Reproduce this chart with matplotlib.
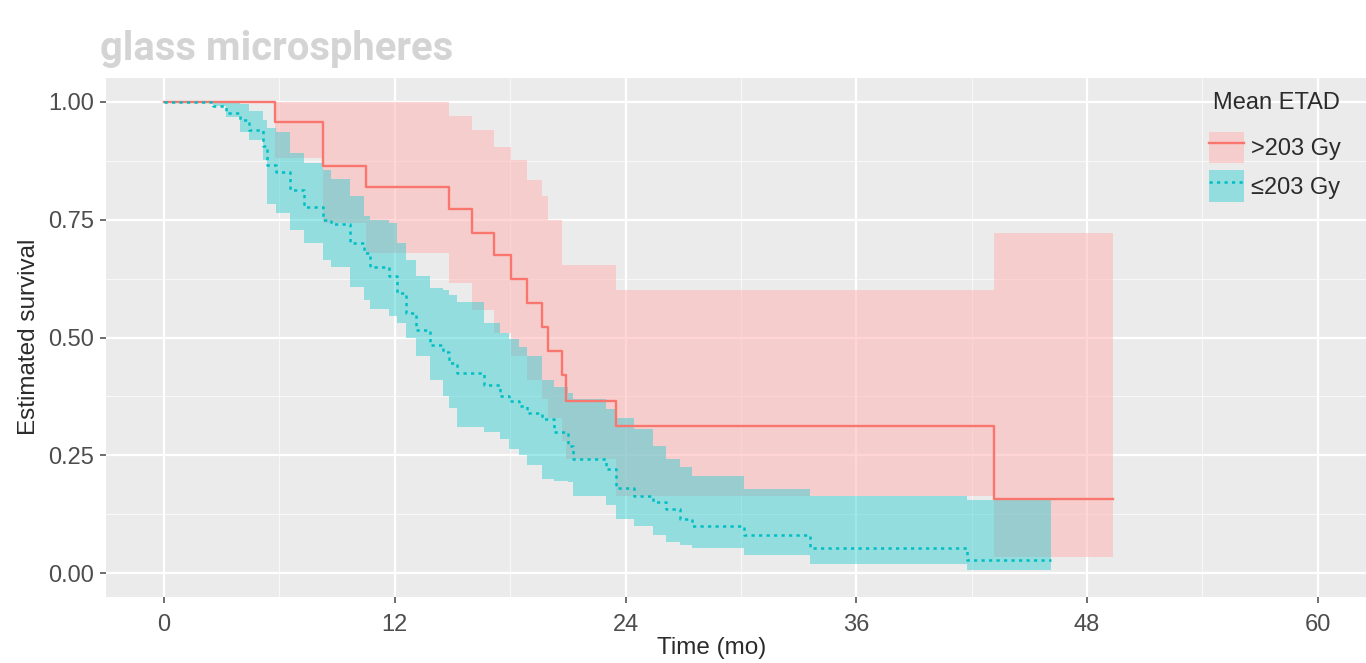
import numpy as np
import matplotlib
matplotlib.use("Agg")
import matplotlib.pyplot as plt
from matplotlib.patches import Patch
from matplotlib.lines import Line2D

plt.rcParams['font.family'] = ['Liberation Sans', 'DejaVu Sans']

# >203 Gy group (Kaplan-Meier steps)
red_t = [0, 5.75, 8.28, 10.50, 14.83, 16.04, 17.15, 18.06, 18.87, 19.68, 19.98,
         20.68, 20.89, 23.51, 43.18]
red_s = [1.0, 0.956, 0.863, 0.819, 0.772, 0.722, 0.675, 0.624, 0.574, 0.522, 0.471,
         0.42, 0.366, 0.313, 0.158]
red_hi = [1.0, 1.0, 1.0, 1.0, 0.97, 0.939, 0.904, 0.876, 0.833, 0.80, 0.749,
          0.654, 0.654, 0.601, 0.722]
red_lo = [1.0, 0.88, 0.742, 0.68, 0.616, 0.559, 0.51, 0.46, 0.41, 0.37, 0.33,
          0.28, 0.243, 0.165, 0.035]
red_end = 49.33

# <=203 Gy group
blue_t = [0, 2.53, 3.23, 3.94, 4.44, 5.15, 5.35, 5.85, 6.56, 7.27,
          8.28, 8.68, 9.69, 10.39, 10.70, 11.71, 12.11, 12.61, 13.12, 13.82,
          14.53, 14.83, 15.24, 16.65, 17.46, 17.96, 18.46, 18.87, 19.68, 20.28,
          20.99, 21.29, 23.0, 23.51, 24.42, 25.42, 26.13, 26.84, 27.44, 30.17,
          33.60, 41.77]
blue_s = [1.0, 0.99, 0.975, 0.96, 0.94, 0.905, 0.865, 0.85, 0.812, 0.777,
          0.75, 0.74, 0.70, 0.68, 0.65, 0.63, 0.594, 0.552, 0.515, 0.485,
          0.47, 0.447, 0.425, 0.40, 0.376, 0.365, 0.355, 0.341, 0.327, 0.30,
          0.271, 0.243, 0.222, 0.18, 0.165, 0.151, 0.137, 0.116, 0.10, 0.081,
          0.053, 0.028]
blue_hi = [1.0, 1.0, 1.0, 0.995, 0.98, 0.96, 0.945, 0.935, 0.89, 0.87,
           0.855, 0.835, 0.80, 0.757, 0.75, 0.742, 0.70, 0.665, 0.63, 0.605,
           0.60, 0.59, 0.575, 0.53, 0.51, 0.496, 0.48, 0.46, 0.41, 0.395,
           0.383, 0.37, 0.348, 0.33, 0.306, 0.271, 0.243, 0.225, 0.207, 0.179,
           0.165, 0.155]
blue_lo = [1.0, 0.99, 0.967, 0.935, 0.918, 0.876, 0.784, 0.763, 0.728, 0.70,
           0.665, 0.65, 0.608, 0.58, 0.56, 0.545, 0.531, 0.50, 0.46, 0.41,
           0.376, 0.35, 0.31, 0.30, 0.285, 0.264, 0.25, 0.23, 0.20, 0.195,
           0.193, 0.165, 0.144, 0.116, 0.10, 0.081, 0.067, 0.06, 0.053, 0.039,
           0.02, 0.007]
blue_end = 46.1

x_ticks = [0, 12, 24, 36, 48, 60]
y_ticks = [0.0, 0.25, 0.5, 0.75, 1.0]
y_labels = ['0.00', '0.25', '0.50', '0.75', '1.00']
labels = ['>203 Gy', '≤203 Gy']

RED = '#F8766D'
TEAL = '#00BFC4'
RED_FILL = (1.0, 0.725, 0.725)
TEAL_FILL = (0.16, 0.80, 0.82)
RED_A, TEAL_A = 0.6, 0.45


def ext(t, v, end):
    return np.append(t, end), np.append(v, v[-1])


W, H = 1366, 663
fig = plt.figure(figsize=(W / 100, H / 100), dpi=100)
ax = fig.add_axes([106.3 / W, 66 / H, 1269.2 / W, 519 / H])
ax.set_facecolor('#EBEBEB')

# confidence bands
t, hi = ext(red_t, red_hi, red_end)
_, lo = ext(red_t, red_lo, red_end)
ax.fill_between(t, lo, hi, step='post', color=RED_FILL, alpha=RED_A, lw=0)
t, hi = ext(blue_t, blue_hi, blue_end)
_, lo = ext(blue_t, blue_lo, blue_end)
ax.fill_between(t, lo, hi, step='post', color=TEAL_FILL, alpha=TEAL_A, lw=0)

# survival curves
t, s = ext(red_t, red_s, red_end)
ax.plot(t, s, drawstyle='steps-post', color=RED, lw=1.7)
t, s = ext(blue_t, blue_s, blue_end)
ax.plot(t, s, drawstyle='steps-post', color=TEAL, lw=1.8, linestyle=(0, (1.3, 1.7)))

ax.set_xlim(-3, 63)
ax.set_ylim(-0.05, 1.05)
ax.set_xticks(x_ticks)
ax.set_xticks([6, 18, 30, 42, 54], minor=True)
ax.set_yticks(y_ticks)
ax.set_yticklabels(y_labels)
ax.set_yticks([0.125, 0.375, 0.625, 0.875], minor=True)
ax.grid(which='major', color='white', lw=1.6)
ax.grid(which='minor', color='white', lw=0.7, alpha=0.7)
ax.set_axisbelow(True)
for sp in ax.spines.values():
    sp.set_visible(False)
ax.tick_params(which='major', length=4, width=1.2, color='#555555',
               labelsize=17, labelcolor='#4D4D4D', pad=5)
ax.tick_params(axis='x', pad=8)
ax.tick_params(which='minor', length=0)

fig.text(712 / W, 1 - 648 / H, 'Time (mo)', ha='center', va='center',
         fontsize=17.5, color='#2B2B2B')
fig.text(29 / W, 1 - 337 / H, 'Estimated survival', ha='center', va='center',
         rotation=90, fontsize=17.5, color='#2B2B2B')

fig.text(100 / W, 1 - 60 / H, 'glass microspheres', ha='left', va='baseline',
         fontsize=28.8, fontweight='bold', color='#D4D4D4', family='Roboto')

# legend: title placed separately so the gap to the keys matches
fig.text(1213 / W, 1 - 103 / H, 'Mean ETAD', ha='left', va='center',
         fontsize=17, color='#2B2B2B')
handles = [
    (Patch(facecolor=RED_FILL, alpha=RED_A, lw=0), Line2D([], [], color=RED, lw=1.7)),
    (Patch(facecolor=TEAL_FILL, alpha=TEAL_A, lw=0),
     Line2D([], [], color=TEAL, lw=1.8, linestyle=(0, (1.3, 1.7)))),
]
leg = fig.legend(handles, labels, loc='upper left',
                 bbox_to_anchor=(1192 / W, 1 - 115 / H), frameon=False,
                 fontsize=17, handlelength=1.5,
                 handleheight=1.7, labelspacing=0.3, handletextpad=0.3,
                 borderpad=0.2)
for txt in leg.get_texts():
    txt.set_color('#2B2B2B')

fig.savefig('out.png', dpi=100)
